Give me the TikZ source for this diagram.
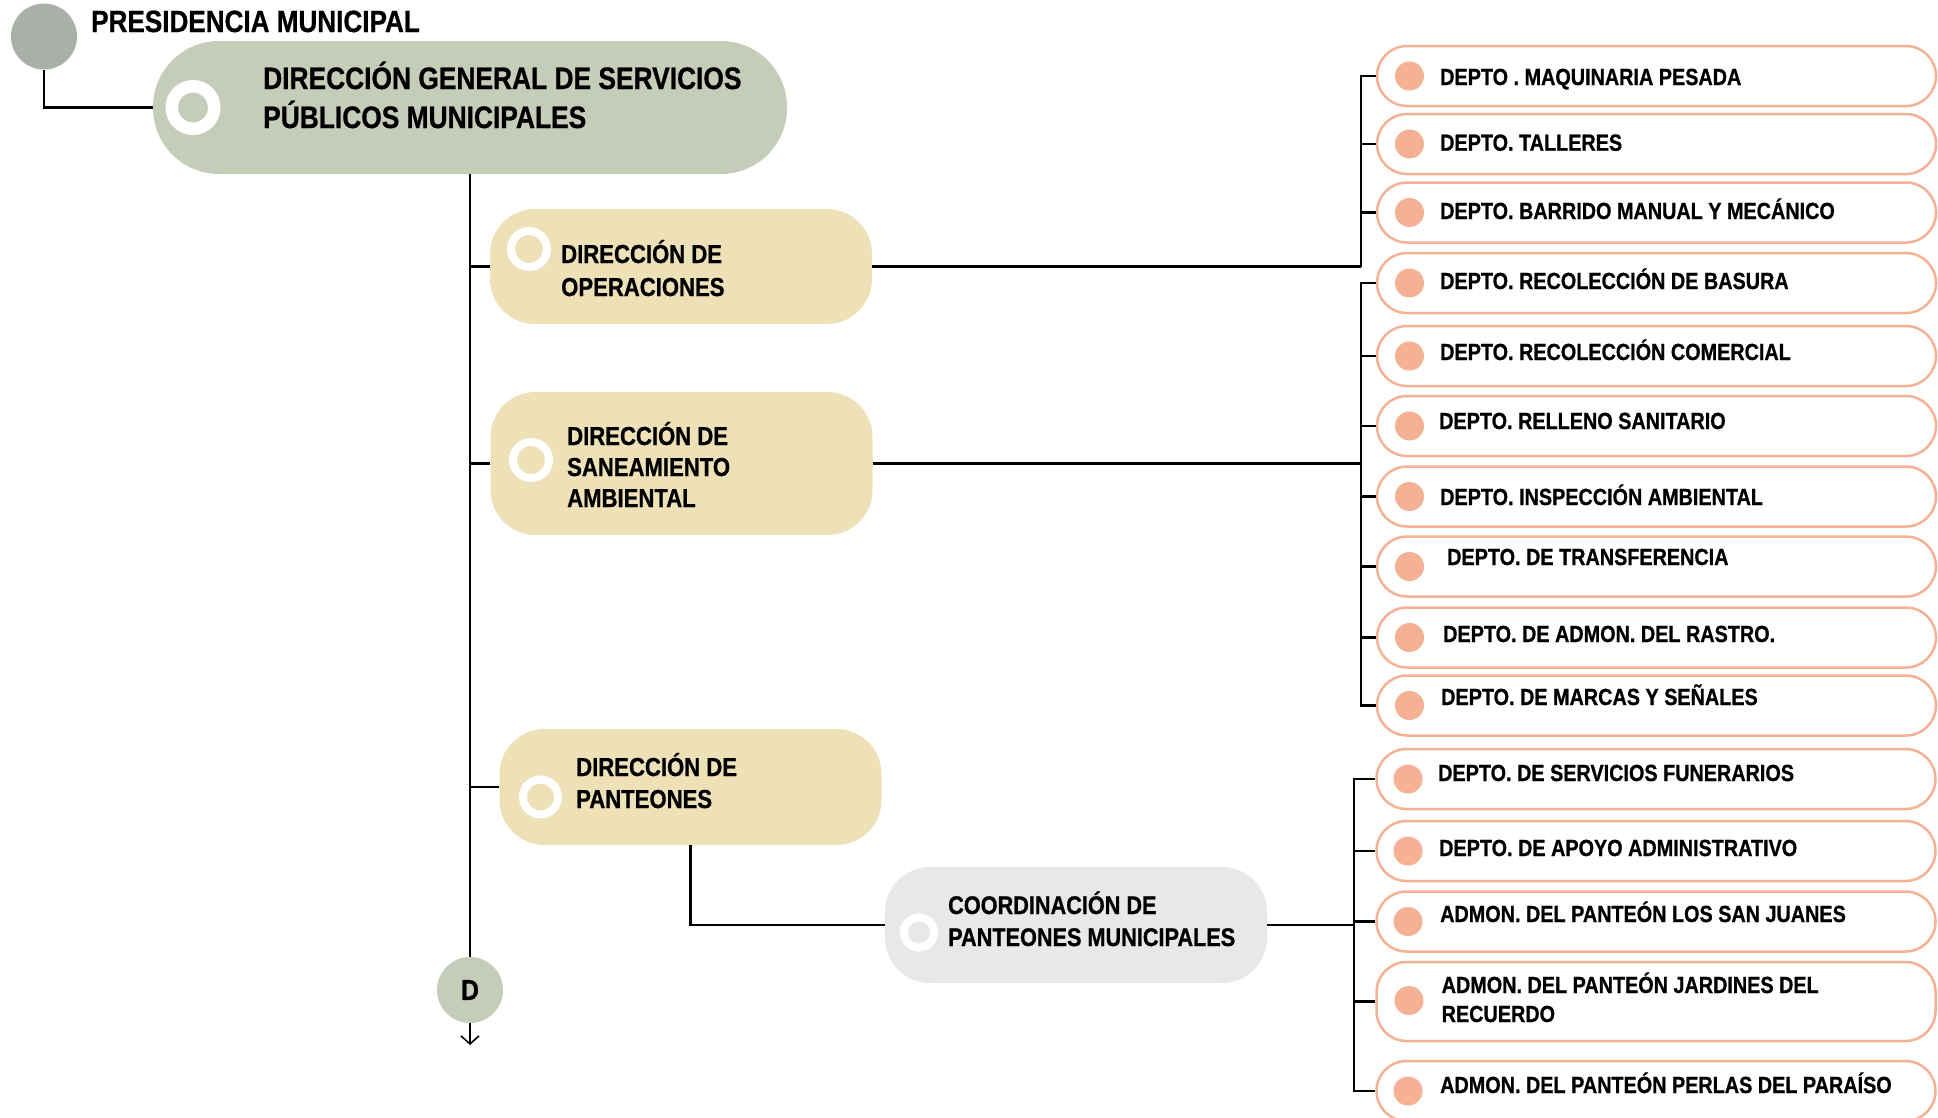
\documentclass[tikz,border=0pt]{standalone}
\usepackage{fontspec}
\setmainfont{Liberation Sans}[FakeStretch=0.85, BoldFeatures={FakeBold=0.8}]
\usetikzlibrary{arrows.meta}
\definecolor{sage}{HTML}{C5CCB7}
\definecolor{grayc}{HTML}{A9B0A8}
\definecolor{tanc}{HTML}{EEE0B7}
\definecolor{lgray}{HTML}{E8E8E8}
\definecolor{salmon}{HTML}{F4B194}
\begin{document}
\begin{tikzpicture}[x=1pt,y=-1pt,
  conn/.style={draw=black, line width=2.2pt},
  dirbox/.style={fill=tanc, rounded corners=45pt, inner sep=0pt, minimum width=382pt},
  deptbox/.style={draw=salmon, line width=2.5pt, fill=white, rounded corners=30pt, minimum width=559pt, minimum height=60pt, inner sep=0pt},
  dot/.style={circle, fill=salmon, minimum size=29pt, inner sep=0pt},
  ring/.style={circle, draw=white, inner sep=0pt},
  depttxt/.style={anchor=base west, inner sep=0pt, font=\fontsize{23.3}{29}\selectfont\bfseries},
  dirtxt/.style={anchor=base west, inner sep=0pt, font=\fontsize{26}{33}\selectfont\bfseries},
]
\useasboundingbox (0,0) rectangle (1938,1117);
\clip (0,0) rectangle (1938,1117);

% Presidencia
\node[circle, fill=grayc, minimum size=66pt, inner sep=0pt] (pres) at (44,36.5) {};
\node[anchor=base west, inner sep=0pt, font=\fontsize{30.7}{36}\selectfont\bfseries] (prest) at (91,32) {PRESIDENCIA MUNICIPAL};

% Direccion general
\node[fill=sage, rounded corners=66pt, minimum width=634pt, minimum height=133pt, inner sep=0pt] (dg) at (470,107.5) {};
\node[ring, fill=sage, line width=12.5pt, minimum size=42.5pt] (dgr) at (193,107.5) {};
\node[anchor=base west, inner sep=0pt, font=\fontsize{31}{39}\selectfont\bfseries] (dgt) at (263,89)
  {\vtop{\hbox{DIRECCIÓN GENERAL DE SERVICIOS}\hbox{PÚBLICOS MUNICIPALES}}};

% Direcciones
\node[dirbox, minimum height=115pt] (ops) at (681,266.5) {};
\node[ring, fill=tanc, line width=8pt, minimum size=36pt] (opsr) at (529,249) {};
\node[dirtxt] (opst) at (561,263) {\vtop{\hbox{DIRECCIÓN DE}\hbox{OPERACIONES}}};

\node[dirbox, minimum height=143pt] (san) at (681.5,463.5) {};
\node[ring, fill=tanc, line width=8pt, minimum size=36pt] (sanr) at (531,460) {};
\node[dirtxt, font=\fontsize{26}{31}\selectfont\bfseries] (sant) at (567,445) {\vtop{\hbox{DIRECCIÓN DE}\hbox{SANEAMIENTO}\hbox{AMBIENTAL}}};

\node[dirbox, minimum height=116pt] (pant) at (690.5,787) {};
\node[ring, fill=tanc, line width=8pt, minimum size=35pt] (pantr) at (540.5,797) {};
\node[dirtxt, font=\fontsize{26}{32}\selectfont\bfseries] (pantt) at (576,776) {\vtop{\hbox{DIRECCIÓN DE}\hbox{PANTEONES}}};

\node[fill=lgray, rounded corners=45pt, minimum width=382pt, minimum height=116pt, inner sep=0pt] (coord) at (1076,925) {};
\node[ring, fill=lgray, line width=8pt, minimum size=30pt] (coordr) at (919,932.5) {};
\node[dirtxt, font=\fontsize{25.5}{32}\selectfont\bfseries] (coordt) at (948,914) {\vtop{\hbox{COORDINACIÓN DE}\hbox{PANTEONES MUNICIPALES}}};

% D connector
\node[circle, fill=sage, minimum size=66pt, inner sep=0pt, font=\fontsize{29}{34}\selectfont\bfseries] (D) at (470,990) {D};
\coordinate (Dend) at (470,1045);

% Departamentos
\foreach \n/\y/\tx/\tb/\txt in {
  1/76/1440/85/{DEPTO . MAQUINARIA PESADA},
  2/144/1440/150.7/{DEPTO. TALLERES},
  3/212.5/1440/219/{DEPTO. BARRIDO MANUAL Y MECÁNICO},
  4/283/1440/289/{DEPTO. RECOLECCIÓN DE BASURA},
  5/356/1440/360/{DEPTO. RECOLECCIÓN COMERCIAL},
  6/426/1439/429/{DEPTO. RELLENO SANITARIO},
  7/496.5/1440/505/{DEPTO. INSPECCIÓN AMBIENTAL},
  8/566.5/1447/565/{DEPTO. DE TRANSFERENCIA},
  9/637.5/1443/642/{DEPTO. DE ADMON. DEL RASTRO.},
  10/705.5/1441/705/{DEPTO. DE MARCAS Y SEÑALES}}{
  \node[deptbox] (d\n) at (1656.5,\y) {};
  \node[dot] (dd\n) at (1409.5,\y) {};
  \node[depttxt] (dt\n) at (\tx,\tb) {\txt};
}
\foreach \n/\y/\tx/\tb/\txt in {
  11/779/1438/781/{DEPTO. DE SERVICIOS FUNERARIOS},
  12/851/1439/856/{DEPTO. DE APOYO ADMINISTRATIVO},
  13/921.5/1440/922/{ADMON. DEL PANTEÓN LOS SAN JUANES},
  15/1091/1440/1093/{ADMON. DEL PANTEÓN PERLAS DEL PARAÍSO}}{
  \node[deptbox] (d\n) at (1656,\y) {};
  \node[dot] (dd\n) at (1408,\y) {};
  \node[depttxt] (dt\n) at (\tx,\tb) {\txt};
}
\node[deptbox, minimum height=79pt] (d14) at (1656,1001.5) {};
\node[dot] (dd14) at (1409,1000.5) {};
\node[depttxt] (dt14) at (1441.5,993) {\vtop{\hbox{ADMON. DEL PANTEÓN JARDINES DEL}\hbox{RECUERDO}}};

% Connectors
\coordinate (bxA) at (1361,0);
\coordinate (bxC) at (1354,0);
\draw[conn] (pres.south) |- (dg.west);
\draw[conn] (dg.south) -- (D.north);
\draw[conn] (ops.west) -- (ops.west -| dg.south);
\draw[conn] (san.west) -- (san.west -| dg.south);
\draw[conn] (pant.west) -- (pant.west -| dg.south);
\draw[conn] (pant.south) |- (coord.west);
\draw[line width=1.6pt, -{Straight Barb[length=8pt,width=18pt]}] (D.south) -- (Dend);

\draw[conn] (ops.east) -- (ops.east -| bxA);
\draw[conn] (d1.west) -| (bxA |- ops.east);
\foreach \n in {2,3}{\draw[conn] (d\n.west) -- (d\n.west -| bxA);}

\draw[conn] (san.east) -- (san.east -| bxA);
\draw[conn] (d4.west) -| (bxA |- d10.west) -- (d10.west);
\foreach \n in {5,6,7,8,9}{\draw[conn] (d\n.west) -- (d\n.west -| bxA);}

\draw[conn] (coord.east) -- (coord.east -| bxC);
\draw[conn] (d11.west) -| (bxC |- d15.west) -- (d15.west);
\foreach \n in {12,13,14}{\draw[conn] (d\n.west) -- (d\n.west -| bxC);}
\end{tikzpicture}
\end{document}
